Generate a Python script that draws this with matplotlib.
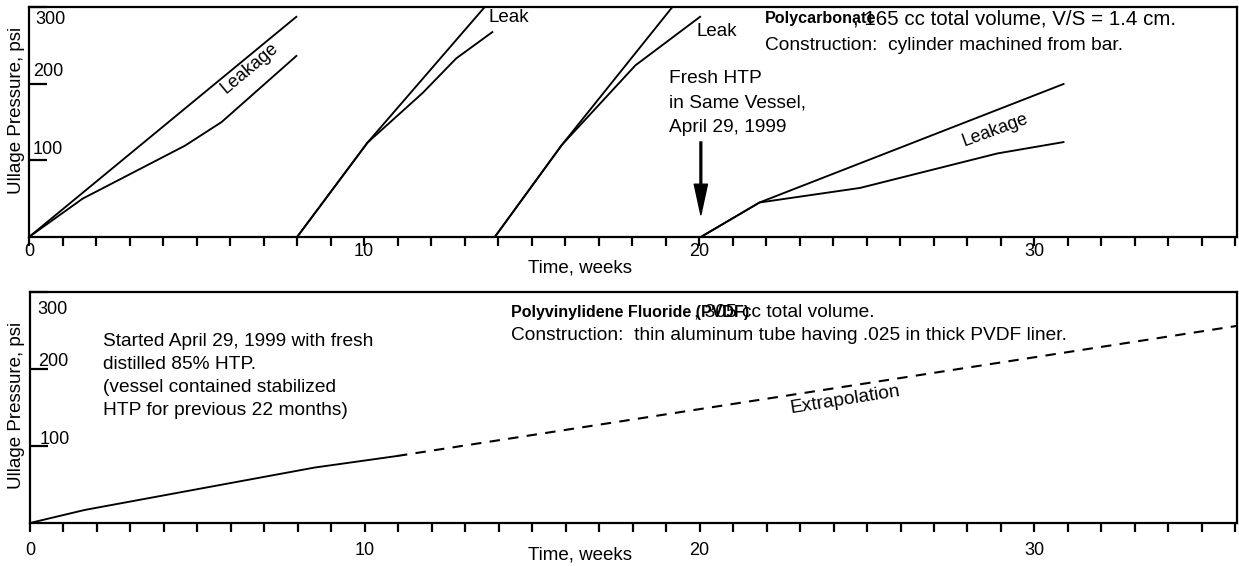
import matplotlib
matplotlib.use("Agg")
import matplotlib.pyplot as plt
import numpy as np

plt.rcParams['font.family'] = ['Liberation Sans', 'DejaVu Sans']

W, H = 1239, 566

# ---------------- data (weeks, psi) ----------------
# Top: Polycarbonate vessel
run1_upper_x = [0.0, 8.0]
run1_upper_y = [0, 288]
run1_lower_x = [0.0, 1.6, 4.65, 5.75, 8.0]
run1_lower_y = [0, 50, 119, 150, 237]

run2_upper_x = [8.0, 10.1, 13.6]
run2_upper_y = [0, 123, 300]
run2_lower_x = [8.0, 10.1, 11.75, 12.75, 13.85]
run2_lower_y = [0, 123, 188, 233, 268]

run3_upper_x = [13.9, 15.9, 19.2]
run3_upper_y = [0, 120, 300]
run3_lower_x = [13.9, 15.9, 18.1, 20.05]
run3_lower_y = [0, 120, 224, 288]

run4_upper_x = [20.05, 21.8, 30.9]
run4_upper_y = [0, 45, 200]
run4_lower_x = [20.05, 21.8, 24.8, 28.9, 30.9]
run4_lower_y = [0, 45, 64, 109, 124]

# Bottom: PVDF vessel
pvdf_x = [0.0, 1.64, 8.5, 10.96]
pvdf_y = [0, 17, 72, 87]
extrap_x = [10.96, 36.05]
extrap_y = [87, 256]

x_major = [0, 10, 20, 30]
y_ticks = [100, 200, 300]


def fx(x):
    return x / W


def fy(y):
    return 1 - y / H


fig = plt.figure(figsize=(W / 100, H / 100), dpi=100)

ax1 = fig.add_axes([fx(29), fy(237), (1237 - 29) / W, (237 - 7) / H])
ax2 = fig.add_axes([fx(30), fy(523), (1237 - 30) / W, (523 - 292) / H])

LW = 1.35
FS = 13.8

for ax in (ax1, ax2):
    ax.set_xlim(0, 36.05)
    ax.set_ylim(0, 300)
    for s in ax.spines.values():
        s.set_linewidth(1.6)
    ax.set_xticks(np.arange(0, 37, 1))
    ax.set_xticklabels([str(t) if t in x_major else "" for t in range(0, 37)])
    ax.set_yticks(y_ticks)
    ax.set_yticklabels([])
    ax.tick_params(axis='y', direction='in', length=13, width=1.6, left=True)
    ax.tick_params(axis='x', direction='out', length=6.5, width=1.6, labelsize=13)

ax1.tick_params(axis='x', pad=-2)
ax2.tick_params(axis='x', pad=7)

# ---- top chart lines
for xs, ys in [(run1_upper_x, run1_upper_y), (run1_lower_x, run1_lower_y),
               (run2_upper_x, run2_upper_y), (run2_lower_x, run2_lower_y),
               (run3_upper_x, run3_upper_y), (run3_lower_x, run3_lower_y),
               (run4_upper_x, run4_upper_y), (run4_lower_x, run4_lower_y)]:
    ax1.plot(xs, ys, color='black', lw=LW, solid_capstyle='butt')

ax1.annotate("", xy=(20.05, 29), xytext=(20.05, 124),
             arrowprops=dict(width=1.3, headwidth=9.5, headlength=22, color='black'))

# ---- bottom chart lines
ax2.plot(pvdf_x, pvdf_y, color='black', lw=LW)
ax2.plot(extrap_x, extrap_y, color='black', lw=1.5, linestyle=(0, (5, 4)))


def t(x, y, s, **kw):
    kw.setdefault('fontsize', FS)
    kw.setdefault('va', 'center')
    kw.setdefault('ha', 'left')
    fig.text(fx(x), fy(y), s, **kw)


# ---- texts, top
t(35, 20, "300", fontsize=13); t(33, 71, "200", fontsize=13); t(33, 150, "100", fontsize=13)
t(17, 110, "Ullage Pressure, psi", fontsize=13.5, rotation=90, ha='center')
t(580, 268, "Time, weeks", fontsize=13.5, ha='center')
t(250, 68, "Leakage", fontsize=13, rotation=40, ha='center')
t(488, 17, "Leak", fontsize=13.5)
t(697, 32, "Leak", fontsize=13.5)
t(669, 103, "Fresh HTP\nin Same Vessel,\nApril 29, 1999", linespacing=1.56)
t(765, 19, "Polycarbonate", fontweight='bold', fontsize=11.6)
t(853, 19, ", 165 cc total volume, V/S = 1.4 cm.", fontsize=14.8)
t(765, 46, "Construction:  cylinder machined from bar.")
t(995, 130, "Leakage", fontsize=13, rotation=20, ha='center')

# ---- texts, bottom
t(37, 310, "300", fontsize=13); t(38, 361, "200", fontsize=13); t(40, 439, "100", fontsize=13)
t(17, 405, "Ullage Pressure, psi", fontsize=13.5, rotation=90, ha='center')
t(580, 555, "Time, weeks", fontsize=13.5, ha='center')
t(103, 376, "Started April 29, 1999 with fresh\ndistilled 85% HTP.\n(vessel contained stabilized\nHTP for previous 22 months)",
  linespacing=1.47)
t(511, 312, "Polyvinylidene Fluoride (PVDF)", fontweight='bold', fontsize=11.5)
t(875, 312, ", 305 cc total volume.", ha='right')
t(511, 336, "Construction:  thin aluminum tube having .025 in thick PVDF liner.")
t(845, 400, "Extrapolation", rotation=9, ha='center')

fig.savefig("out.png", dpi=100)
